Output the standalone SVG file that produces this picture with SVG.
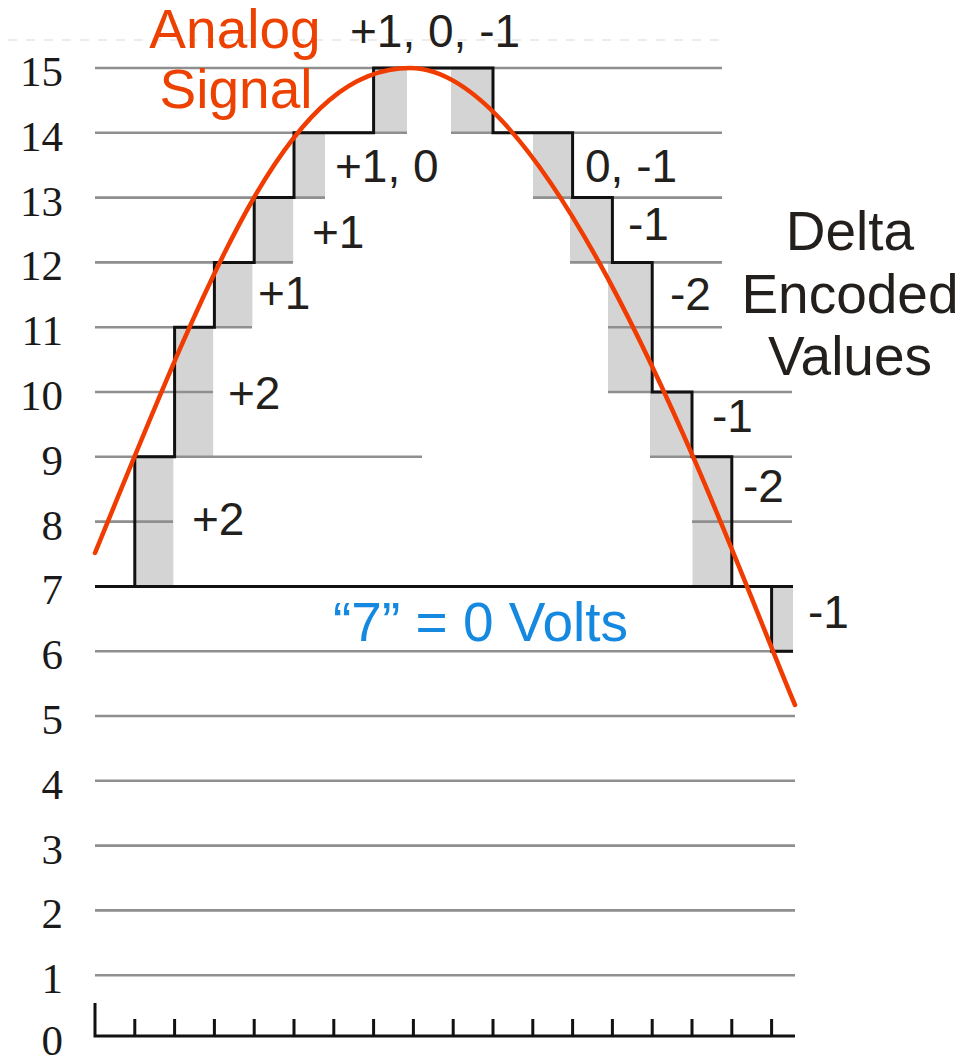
<svg xmlns="http://www.w3.org/2000/svg" width="965" height="1058" viewBox="0 0 965 1058">
<style>
.grid{stroke:#8f8f8f;stroke-width:2.6;fill:none}
.fill{fill:#d4d4d4}
.step{stroke:#111;stroke-width:3;fill:none}
.axis{stroke:#111;stroke-width:3;fill:none}
.ax{font-family:"Liberation Serif",serif;font-size:43px;fill:#1a1a1a;text-anchor:end}
.lbl{font-family:"Liberation Sans",Arial,sans-serif;font-size:46px;fill:#231f1c}
.big{font-family:"Liberation Sans",Arial,sans-serif;font-size:55px;text-anchor:middle}
</style>
<rect width="965" height="1058" fill="#fff"/>
<line x1="8" y1="40" x2="722" y2="40" stroke="#e6e6e6" stroke-width="1.5" stroke-dasharray="9,9"/>
<g id="delta-fills">
<rect class="fill" x="134.8" y="456.8" width="38.6" height="129.6"/>
<rect class="fill" x="174.6" y="327.2" width="38.6" height="129.6"/>
<rect class="fill" x="214.4" y="262.4" width="38" height="64.8"/>
<rect class="fill" x="254.2" y="197.6" width="39" height="64.8"/>
<rect class="fill" x="294" y="132.8" width="31" height="64.8"/>
<rect class="fill" x="373.6" y="68" width="33.4" height="64.8"/>
<rect class="fill" x="451" y="68" width="42" height="64.8"/>
<rect class="fill" x="533" y="132.8" width="39.6" height="64.8"/>
<rect class="fill" x="570" y="197.6" width="42.4" height="64.8"/>
<rect class="fill" x="608" y="262.4" width="44.2" height="129.6"/>
<rect class="fill" x="650" y="392" width="42" height="64.8"/>
<rect class="fill" x="692.5" y="456.8" width="39.3" height="129.6"/>
<rect class="fill" x="771.6" y="586.4" width="21.4" height="64.8"/>
</g>
<g id="grid">
<path class="grid" d="M95,68H722 M95,132.8H407 M451,132.8H722 M95,197.6H325 M533,197.6H722 M95,262.4H293 M570,262.4H722 M95,327.2H252 M608,327.2H722 M95,392H213 M608,392H792 M95,456.8H422 M650,456.8H792 M95,521.6H173 M692,521.6H792 M95,651.2H793 M95,716H795 M95,780.8H795 M95,845.6H795 M95,910.4H795 M95,975.2H795"/>
</g>
<g id="y-labels">
<text class="ax" x="63" y="86">15</text>
<text class="ax" x="63" y="151">14</text>
<text class="ax" x="63" y="216">13</text>
<text class="ax" x="63" y="280">12</text>
<text class="ax" x="63" y="345">11</text>
<text class="ax" x="63" y="410">10</text>
<text class="ax" x="63" y="475">9</text>
<text class="ax" x="63" y="540">8</text>
<text class="ax" x="63" y="604">7</text>
<text class="ax" x="63" y="669">6</text>
<text class="ax" x="63" y="734">5</text>
<text class="ax" x="63" y="799">4</text>
<text class="ax" x="63" y="864">3</text>
<text class="ax" x="63" y="928">2</text>
<text class="ax" x="63" y="993">1</text>
<text class="ax" x="63" y="1055">0</text>
</g>
<g id="x-axis">
<path class="axis" d="M95,1003V1036H795 M134.8,1019V1036 M174.6,1019V1036 M214.4,1019V1036 M254.2,1019V1036 M294,1019V1036 M333.8,1019V1036 M373.6,1019V1036 M413.4,1019V1036 M453.2,1019V1036 M493,1019V1036 M532.8,1019V1036 M572.6,1019V1036 M612.4,1019V1036 M652.2,1019V1036 M692,1019V1036 M731.8,1019V1036 M771.6,1019V1036"/>
</g>
<g id="encoded-signal">
<path class="step" d="M95,586.4H793"/>
<path class="step" d="M95,586.4H134.8V456.8H174.6V327.2H214.4V262.4H254.2V197.6H294V132.8H373.6V68H493V132.8H572.6V197.6H612.4V262.4H652.2V392H692V456.8H731.8V586.4H771.6V651.2H793"/>
</g>
<g id="delta-labels">
<text class="lbl" x="350" y="47">+1, 0, -1</text>
<text class="lbl" x="335" y="182">+1, 0</text>
<text class="lbl" x="312" y="248">+1</text>
<text class="lbl" x="258" y="309">+1</text>
<text class="lbl" x="228" y="409">+2</text>
<text class="lbl" x="192" y="535">+2</text>
<text class="lbl" x="585" y="182">0, -1</text>
<text class="lbl" x="628" y="240">-1</text>
<text class="lbl" x="670" y="310">-2</text>
<text class="lbl" x="712" y="432">-1</text>
<text class="lbl" x="743" y="502">-2</text>
<text class="lbl" x="808" y="628">-1</text>
</g>
<g id="analog-signal">
<path fill="none" stroke="#f03c00" stroke-width="4.5" stroke-linecap="round" d="M95,553 C220,246.75 292,68 410,68 C560,68 735,564 795,705"/>
</g>
<g id="titles">
<text class="big" x="235" y="48" fill="#ec4100">Analog</text>
<text class="big" x="236" y="108" fill="#ec4100">Signal</text>
<text class="big" x="850" y="250" fill="#231f1c">Delta</text>
<text class="big" x="850" y="313" fill="#231f1c">Encoded</text>
<text class="big" x="850" y="375" fill="#231f1c">Values</text>
<text x="333" y="641" font-family="Liberation Sans, Arial, sans-serif" font-size="55" fill="#1589e0">“7” = 0 Volts</text>
</g>
</svg>
